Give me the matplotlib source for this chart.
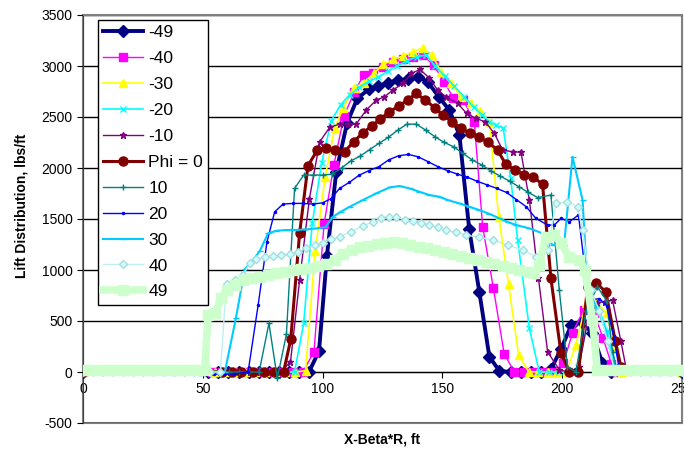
import matplotlib as mpl
mpl.use('Agg')
import matplotlib.pyplot as plt
from matplotlib.patches import Rectangle

plt.rcParams['font.family'] = ['Liberation Sans', 'DejaVu Sans']
plt.rcParams['axes.unicode_minus'] = False

# ---- data (x = X-Beta*R ft, y = lbs/ft) ----
x_m49 = [0, 52, 56.5, 60.7, 64.9, 69.1, 73.3, 77.5, 81.7, 85.9, 90.1, 94.3, 98.5, 101.8, 105.7, 110.2, 114.5,
         119.2, 123, 127.2, 131.4, 135.5, 139.7, 143.9, 148.4, 152.9, 157.1, 161.2, 165.4, 169.6, 173.8, 178.6,
         182.8, 187, 191.2, 195.4, 199.6, 203.8, 208.2, 212.6, 216.8, 220.5, 250]
y_m49 = [0, 0, 0, 0, 0, 0, 0, 0, 0, 0, 0, 0, 206, 1137, 1964, 2440, 2683,
         2770, 2803, 2835, 2862, 2868, 2894, 2845, 2700, 2568, 2323, 1398, 787, 150, 10, 0,
         0, 0, 0, 30, 230, 461, 493, 379, 85, 0, 0]

x_m40 = [0, 54, 58.2, 62.4, 66.6, 70.8, 75, 79.2, 83.4, 87.6, 91.8, 96.4, 100.6, 104.7, 108.9, 113.3, 117.1,
         121, 125.1, 129.3, 133.5, 137.9, 141.8, 146.3, 150.8, 154.6, 158.8, 163.3, 166.8, 171.3, 175.8, 180,
         184.2, 188.4, 192.6, 196.3, 200.5, 204.3, 208.9, 213.3, 217.1, 220.5, 223, 250]
y_m40 = [0, 0, 0, 0, 0, 0, 0, 0, 0, 0, 0, 200, 1450, 2029, 2509, 2747, 2911,
         2927, 2990, 3041, 3064, 3090, 3107, 3009, 2845, 2683, 2666, 2453, 1424, 820, 176, 3,
         0, 0, 0, 0, 85, 385, 608, 575, 330, 80, 0, 0]

x_m30 = [0, 55, 59.2, 63.4, 67.6, 71.8, 76, 80.2, 84.4, 88.6, 92.9, 96.9, 101.1, 105, 108.5, 113.1, 117.1,
         121.3, 125.4, 129.3, 133.5, 137.6, 141.8, 145.7, 149.4, 153.6, 157.8, 162, 165.7, 169.6, 173.5, 177.6,
         181.8, 186, 190, 194, 198, 201.8, 205.7, 209.9, 214, 218.5, 222, 225, 250]
y_m30 = [0, 0, 0, 0, 0, 0, 0, 0, 0, 0, 13, 1186, 1914, 2388, 2584, 2786, 2835,
         2927, 3015, 3064, 3097, 3139, 3178, 3107, 2943, 2829, 2698, 2633, 2561, 2453, 1522, 862,
         167, 3, 0, 0, 0, 0, 265, 673, 690, 575, 250, 0, 0]

x_m20 = [0, 55.8, 60, 64.2, 68.4, 72.6, 76.8, 80.8, 84.5, 88.3, 92.1, 95.7, 99.6, 103.6, 107.5, 111.4, 115.3,
         119.3, 123.3, 127.2, 131.2, 135.1, 139.2, 143.2, 147, 151, 155, 159, 163, 166.5, 169.6, 172.5,
         175.4, 178.5, 181.4, 186.3, 190.4, 194.6, 198.8, 203, 206.8, 210.6, 214.7, 218.8, 222.5, 225, 250]
y_m20 = [0, 0, 0, 0, 0, 0, 0, 0, 0, 0, 477, 1463, 2050, 2463, 2620, 2720, 2790,
         2850, 2890, 2950, 3000, 3050, 3090, 3107, 3000, 2900, 2800, 2700, 2600, 2520, 2453, 2420,
         2388, 1900, 1294, 428, 3, 0, 0, 0, 50, 500, 650, 400, 50, 0, 0]

x_m10 = [0, 53, 57.2, 61.4, 65.6, 69.8, 74, 78.2, 82.4, 86.6, 90.4, 94.5, 98.8, 103, 107.1, 110.5, 114,
         118.2, 122.4, 125.8, 129.3, 133.5, 137, 140.7, 144.6, 148, 151.5, 156.4, 160.1, 164, 167.9, 171.7,
         175.1, 179.3, 182.8, 186.3, 190.1, 193.9, 198.8, 203, 207, 210.6, 214.5, 218, 221, 224.5, 227, 250]
y_m10 = [0, 0, 0, 0, 0, 0, 0, 0, 0, 100, 900, 1700, 2257, 2400, 2430, 2430, 2430,
         2567, 2666, 2698, 2764, 2829, 2927, 2966, 2880, 2764, 2698, 2633, 2535, 2486, 2453, 2339,
         2176, 2159, 2155, 1686, 918, 199, 20, 0, 50, 500, 680, 690, 706, 300, 0, 0]

x_p0 = [0, 58, 62, 66, 71, 75.5, 79.6, 83.7, 86.7, 90.4, 93.9, 97.8, 101.5, 105.3, 109.2, 112.9, 116.8,
        120.5, 123.8, 127.9, 131.8, 135.5, 139, 142.9, 146.8, 150.1, 154, 157.8, 161.5, 165.4, 168.9, 173,
        176.5, 180.4, 184.2, 187.9, 191.8, 195.3, 199.5, 203, 206.8, 210.6, 214.3, 218.2, 222.1, 224.5, 250]
y_p0 = [0, 0, 0, 0, 0, 0, 0, 0, 320, 1359, 2022, 2176, 2192, 2176, 2159, 2257, 2345,
        2411, 2476, 2551, 2607, 2666, 2731, 2666, 2590, 2519, 2453, 2388, 2339, 2300, 2257, 2176,
        2035, 1980, 1931, 1914, 1839, 918, 183, 3, 0, 836, 869, 787, 307, 52, 0]

x_p10 = [0, 61, 65.2, 69.4, 73.5, 77.6, 81.1, 84.9, 88.3, 92.1, 96, 100.1, 104, 107.9, 111.8, 115.7, 119.6,
         123.5, 127.4, 131.3, 135.2, 139.1, 143, 146.9, 150.8, 154.7, 158.6, 162.5, 166.4, 170.3, 174.2, 178.1,
         182, 185.9, 189.8, 195.3, 198.8, 202.2, 205.7, 210, 214.7, 218.5, 221, 223, 250]
y_p10 = [0, 0, 0, 0, 0, 477, -62, 372, 1800, 1931, 1931, 1931, 1940, 2000, 2070, 2117, 2180,
         2241, 2300, 2370, 2430, 2430, 2372, 2306, 2250, 2208, 2143, 2078, 2030, 1970, 1920, 1870,
         1815, 1760, 1710, 1735, 800, 52, 0, 600, 836, 700, 200, 0, 0]

x_p20 = [0, 4.2, 8.4, 12.6, 16.8, 21, 25.2, 29.4, 33.6, 37.8, 42, 46.2, 50.4, 54.6, 58.8, 63, 68.9,
         73.1, 76.8, 80, 83.5, 87.6, 91.8, 96, 100.1, 103.5, 107.1, 111.2, 115.3, 119.4, 123.5, 127.6,
         131.7, 135.8, 139.9, 144, 148.1, 152.2, 156.3, 160.4, 164.5, 168.6, 172.7, 176.8, 180.9, 185,
         189, 193.9, 196.7, 199.5, 203, 206.8, 209.2, 211.9, 215.5, 218.5, 221.5, 224, 228.2, 232.4,
         236.6, 240.8, 245, 249.2]
y_p20 = [-20, -20, -20, -20, -20, -20, -20, -20, -20, -20, -20, -20, -20, -20, -20, -20, 0,
         657, 1277, 1571, 1646, 1653, 1653, 1646, 1659, 1700, 1800, 1860, 1930, 1975, 2013, 2080,
         2120, 2133, 2110, 2062, 2013, 1973, 1940, 1910, 1870, 1835, 1800, 1760, 1690, 1620,
         1506, 1441, 1441, 1506, 1473, 1539, 1065, 706, 720, 650, 350, 0, -20, -20,
         -20, -20, -20, -20]

x_p30 = [0, 46.6, 50.8, 55, 59.2, 63.8, 67.5, 71, 73.8, 77.2, 80.7, 84.9, 89, 93.2, 97.4, 101.2, 104.3,
         107.5, 111.3, 116.8, 122.4, 128, 132.1, 136.3, 140.4, 144.6, 148.8, 152.2, 157.1, 161.2, 165.4,
         169.6, 173.8, 177.2, 180.7, 186.3, 191.8, 196, 200.8, 204.3, 208.5, 210.6, 214.3, 218.2, 222, 250]
y_p30 = [0, 0, 0, 0, 0, 526, 1006, 1100, 1186, 1359, 1385, 1392, 1392, 1398, 1408, 1420, 1522,
         1570, 1620, 1686, 1751, 1810, 1823, 1800, 1767, 1735, 1718, 1686, 1653, 1620, 1588,
         1550, 1506, 1470, 1441, 1408, 1359, 1245, 1250, 2110, 1686, 804, 650, 400, 0, 0]

x_p40 = [0, 48.9, 53.1, 57.3, 59.9, 63.3, 66.8, 69.6, 72.4, 75.8, 79.3, 82.8, 86.3, 89.7, 93.2, 96.7, 100.1,
         103.6, 107.1, 111.7, 116.8, 121, 124.5, 127.6, 130.7, 134.2, 137.6, 141.1, 144.6, 148, 151.5,
         155.7, 159.9, 165.4, 171, 177.2, 183.5, 189, 193.9, 197.4, 202.2, 206.4, 208.5, 212, 215.5, 219, 222, 250]
y_p40 = [0, 0, 0, 0, 862, 902, 951, 1065, 1108, 1124, 1137, 1147, 1157, 1179, 1212, 1245, 1267,
         1300, 1326, 1375, 1431, 1473, 1506, 1522, 1516, 1490, 1480, 1457, 1441, 1418, 1392,
         1370, 1343, 1320, 1294, 1245, 1196, 1130, 1196, 1653, 1669, 1620, 1392, 800, 600, 300, 0, 0]

x_p49 = [0, 3.5, 7, 10.5, 14, 17.5, 21, 24.5, 28, 31.5, 35, 38.5, 42, 45.5, 49, 50.8, 52.2, 55, 57.8,
         59.9, 63.3, 66.8, 70.3, 73.8, 77.3, 80.7, 84.2, 87.6, 91.1, 94.6, 98.1, 101.6, 105.1, 108.6,
         112.1, 115.6, 119.1, 122.6, 126.1, 129.6, 133.1, 136.6, 140.1, 143.6, 147.1, 150.6, 154.1,
         157.6, 161.1, 164.6, 168.1, 171.6, 175.1, 178.6, 182.1, 185.6, 188.3, 190.4, 193.2, 196.7,
         199.5, 203, 207.1, 209.6, 212.6, 214.7, 218.2, 221.7, 225.2, 228.7, 232.2, 235.7, 239.2,
         242.7, 246.2, 249.5]
y_p49 = [15, 15, 15, 15, 15, 15, 15, 15, 15, 15, 15, 15, 15, 15, 15, 15, 559, 575, 722,
         804, 853, 902, 920, 934, 950, 967, 985, 1000, 1010, 1020, 1035, 1055, 1100, 1160,
         1200, 1225, 1240, 1255, 1265, 1270, 1260, 1245, 1230, 1215, 1200, 1180, 1160,
         1140, 1120, 1095, 1075, 1060, 1040, 1020, 1000, 985, 967, 1049, 1326, 1343,
         1261, 1130, 1098, 1000, 510, 15, 15, 15, 15, 15, 15, 15, 15,
         15, 15, 15]

labels = ['-49', '-40', '-30', '-20', '-10', 'Phi = 0', '10', '20', '30', '40', '49']
y_ticks = [-500, 0, 500, 1000, 1500, 2000, 2500, 3000, 3500]
x_ticks = [0, 50, 100, 150, 200, 250]

fig = plt.figure(figsize=(6.84, 4.57), dpi=100)
ax = fig.add_axes([83/684, 1-423/457, 599/684, 408/457])

ax.plot(x_m49, y_m49, color='#000080', lw=2.8, marker='D', ms=6.5, label=labels[0], zorder=3)
ax.plot(x_m40, y_m40, color='#FF00FF', lw=1, marker='s', ms=6, label=labels[1], zorder=4)
ax.plot(x_m30, y_m30, color='#FFFF00', lw=1.2, marker='^', ms=6, label=labels[2], zorder=5)
ax.plot(x_m20, y_m20, color='#00FFFF', lw=1.2, marker='x', ms=4, label=labels[3], zorder=6)
ax.plot(x_m10, y_m10, color='#800080', lw=1, marker='*', ms=5, label=labels[4], zorder=7)
ax.plot(x_p0, y_p0, color='#800000', lw=2.2, marker='o', ms=6.5, label=labels[5], zorder=8)
ax.plot(x_p10, y_p10, color='#008080', lw=1, marker='+', ms=5, label=labels[6], zorder=9)
ax.plot(x_p20, y_p20, color='#0000FF', lw=1, marker='.', ms=3, label=labels[7], zorder=10)
ax.plot(x_p30, y_p30, color='#00CCFF', lw=1.5, marker='_', ms=5, label=labels[8], zorder=11)
ax.plot(x_p40, y_p40, color='#BDEFF5', lw=1, marker='D', ms=4, mfc='#CCFFFF', mec='#A8DCDC',
        label=labels[9], zorder=12)
ax.plot(x_p49, y_p49, color='#CCFFCC', lw=5.5, marker='s', ms=6.5, label=labels[10], zorder=13)

ax.set_xlim(0, 250)
ax.set_ylim(-500, 3500)
ax.set_xticks(x_ticks)
ax.set_yticks(y_ticks)
ax.yaxis.grid(True, color='black', lw=1)
ax.set_axisbelow(True)

ax.spines['bottom'].set_position(('data', 0))
ax.spines['bottom'].set_color('black')
ax.spines['left'].set_color('#404040')
ax.spines['top'].set_color('#808080')
ax.spines['right'].set_color('#808080')
ax.add_patch(Rectangle((0, 0), 1, 1, transform=ax.transAxes, fill=False,
                       edgecolor='#808080', lw=1.5, clip_on=False, zorder=0))
ax.tick_params(axis='both', direction='out', length=4, labelsize=10, colors='black')

leg = ax.legend(loc='upper left', bbox_to_anchor=(0.025, 0.988), fontsize=12.5, frameon=True,
                fancybox=False, edgecolor='black', framealpha=1, borderpad=0.3,
                labelspacing=0.62, handlelength=2.3, handletextpad=0.3, borderaxespad=0)
leg.get_frame().set_linewidth(1)
leg.set_zorder(20)

fig.text(382/684, 1-440/457, 'X-Beta*R, ft', ha='center', va='center', fontsize=10, fontweight='bold')
fig.text(22/684, 1-206/457, 'Lift Distribution, lbs/ft', ha='center', va='center', rotation=90,
         fontsize=10, fontweight='bold')

fig.savefig('out.png', dpi=100)
